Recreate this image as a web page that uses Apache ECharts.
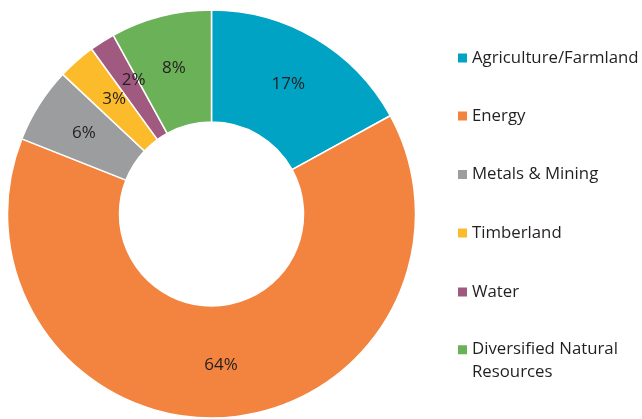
<!DOCTYPE html>
<html>
<head>
<meta charset="utf-8">
<style>
  html, body { margin: 0; padding: 0; background: #ffffff; }
  #chart { width: 642px; height: 419px; }
</style>
<script src="https://cdn.jsdelivr.net/npm/echarts@6/dist/echarts.min.js"></script>
</head>
<body>
<div id="chart"></div>
<script>
// Allocation by natural-resource sector (percent of total)
const categories = [
  'Agriculture/Farmland',
  'Energy',
  'Metals & Mining',
  'Timberland',
  'Water',
  'Diversified Natural\nResources'
];
const shares = [17, 64, 6, 3, 2, 8];
const sliceColors = ['#00A3C4', '#F3843F', '#9C9D9F', '#FBBB2B', '#A05A80', '#6AB157'];

const FONT = '"Open Sans", "Noto Sans", sans-serif';
const TEXT = '#231F20';
const LEGEND_LH = 23;

const chart = echarts.init(document.getElementById('chart'), null, { renderer: 'canvas' });

// One legend block per entry so each row sits at its own height.
// The two-line entry uses a taller icon box whose square sits at the top,
// which keeps the marker level with the first line of text.
const legendTops = [46.5, 104.5, 163, 221.5, 280.5, 338.2];
const legends = categories.map((name, i) => {
  const twoLine = name.indexOf('\n') >= 0;
  return {
    orient: 'vertical',
    left: 458,
    top: legendTops[i],
    padding: 0,
    itemWidth: 9,
    itemHeight: twoLine ? LEGEND_LH + 9 : 9,
    icon: twoLine ? 'path://M0 0L9 0L9 9L0 9Z M0 ' + (LEGEND_LH + 9) + 'L9 ' + (LEGEND_LH + 9) : 'rect',
    itemStyle: { borderWidth: 0 },
    selectedMode: false,
    data: [name],
    textStyle: {
      fontFamily: FONT,
      fontSize: 16.8,
      color: TEXT,
      lineHeight: LEGEND_LH
    }
  };
});

// Small nudges for the two narrow slices so their labels do not collide
const labelNudge = { 3: { dx: 2.5, dy: -1.5 }, 4: { dx: 3, dy: -6 } };

chart.setOption({
  animation: false,
  backgroundColor: '#ffffff',
  color: sliceColors,
  legend: legends,
  series: [{
    type: 'pie',
    center: [211.5, 214],
    radius: [92, 204],
    startAngle: 90,
    clockwise: true,
    avoidLabelOverlap: false,
    labelLayout: function (params) {
      return Object.assign({ hideOverlap: false }, labelNudge[params.dataIndex] || {});
    },
    itemStyle: { borderColor: '#ffffff', borderWidth: 1.5 },
    label: {
      show: true,
      position: 'inside',
      formatter: '{c}%',
      fontFamily: FONT,
      fontSize: 17,
      color: TEXT
    },
    labelLine: { show: false },
    emphasis: { disabled: true },
    data: categories.map((name, i) => ({ name: name, value: shares[i] }))
  }]
});
</script>
</body>
</html>
